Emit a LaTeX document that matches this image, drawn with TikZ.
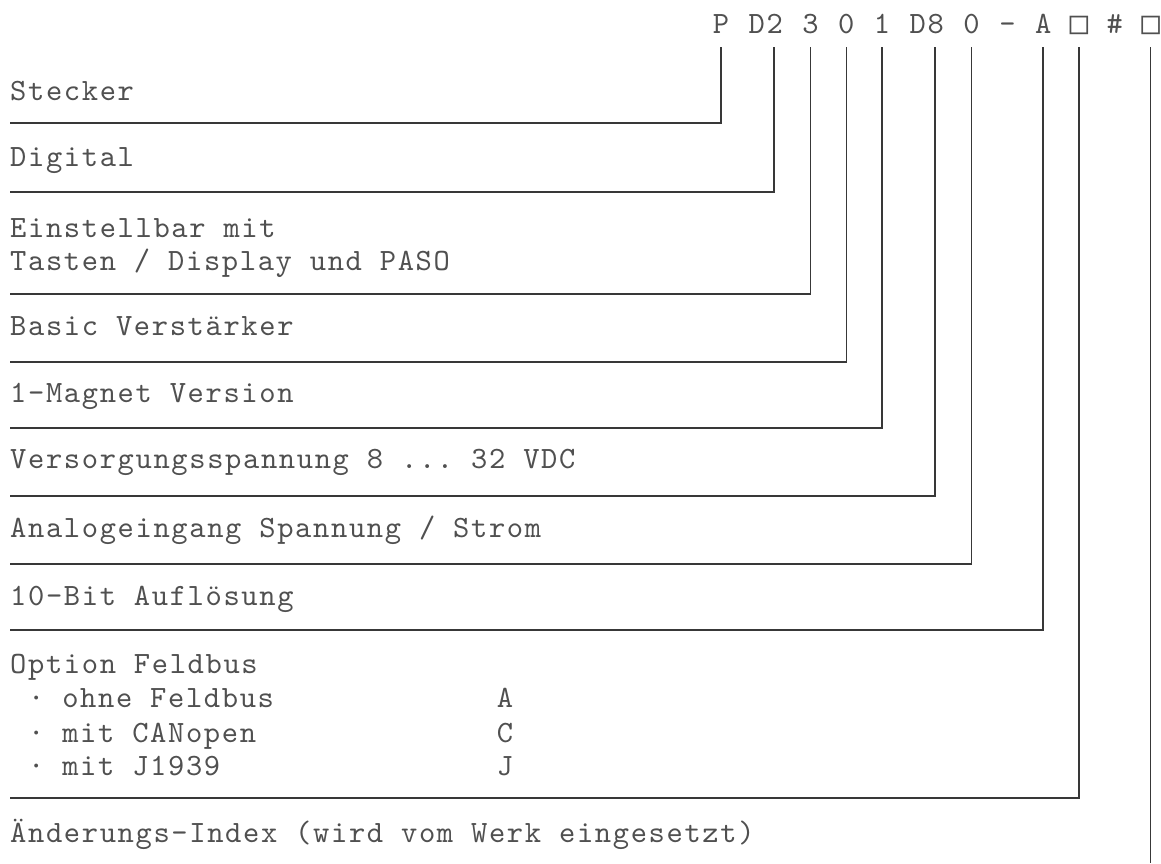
\documentclass[tikz,border=0pt]{standalone}
\usepackage{fontspec}
\setmonofont{lmmono10-regular.otf}[LetterSpace=5.3]
\newfontfamily\boxfont{DejaVu Sans Mono}
\definecolor{inkgrey}{HTML}{505050}
\definecolor{linegrey}{HTML}{383838}
\tikzstyle{code} = [inner sep=0pt, text=inkgrey, font=\fontsize{31}{36}\selectfont\ttfamily]
\tikzstyle{desc} = [code, anchor=base west]
\tikzstyle{digit} = [code, anchor=base, text depth=0pt, inner ysep=14pt]
\tikzstyle{leader} = [draw=linegrey, line width=1.6pt]
\newcommand{\emptybox}{{\boxfont\fontsize{31}{36}\selectfont □}}

\begin{document}
\begin{tikzpicture}[x=1pt, y=-1pt]
		\useasboundingbox (0,0) rectangle (1161,863);

		% type code
		\node (hP) [digit] at (721,33) {P};
		\node (hD2) [digit] at (765.8,33) {D2};
		\node (h3) [digit] at (810.5,33) {3};
		\node (h0a) [digit] at (846.3,33) {0};
		\node (h1) [digit] at (882.1,33) {1};
		\node (hD8) [digit] at (926.8,33) {D8};
		\node (h0b) [digit] at (971.6,33) {0};
		\node (hdash) [digit] at (1007.4,33) {-};
		\node (hA) [digit] at (1043.2,33) {A};
		\node (hbus) [digit] at (1079,33) {\emptybox};
		\node (hhash) [digit] at (1114.8,33) {\#};
		\node (hidx) [digit] at (1150.6,33) {\emptybox};

		% descriptions
		\node (stecker) [desc] at (10,100) {Stecker};
		\node (digital) [desc] at (10,166) {Digital};
		\node (einst) [desc] at (10,237) {Einstellbar mit};
		\node (tasten) [desc] at (10,270) {Tasten / Display und PASO};
		\node (basic) [desc] at (10,335) {Basic Verstärker};
		\node (magnet) [desc] at (10,402) {1-Magnet Version};
		\node (versorg) [desc] at (10,468) {Versorgungsspannung 8 ... 32 VDC};
		\node (analog) [desc] at (10,537) {Analogeingang Spannung / Strom};
		\node (bit) [desc] at (10,605) {10-Bit Auflösung};
		\node (feldbus) [desc] at (10,673) {Option Feldbus};
		\node (ohne) [desc] at (27.9,707) {· ohne Feldbus};
		\node (canopen) [desc] at (27.9,742) {· mit CANopen};
		\node (j1939) [desc] at (27.9,775) {· mit J1939};
		\node (optA) [code, anchor=base] at (505,707) {A};
		\node (optC) [code, anchor=base] at (505,742) {C};
		\node (optJ) [code, anchor=base] at (505,775) {J};
		\node (index) [desc] at (10,842) {Änderungs-Index (wird vom Werk eingesetzt)};

		% leader ends
		\coordinate (eP) at (10,123);
		\coordinate (eD2) at (10,192);
		\coordinate (e3) at (10,294);
		\coordinate (e0a) at (10,362);
		\coordinate (e1) at (10,428);
		\coordinate (eD8) at (10,496);
		\coordinate (e0b) at (10,564);
		\coordinate (eA) at (10,630);
		\coordinate (ebus) at (10,798);
		\coordinate (eidx) at (1150.6,863);

		\draw [leader] (hP.south) |- (eP);
		\draw [leader] ([xshift=-9pt]hD2.south east) |- (eD2);
		\draw [leader] (h3.south) |- (e3);
		\draw [leader] (h0a.south) |- (e0a);
		\draw [leader] (h1.south) |- (e1);
		\draw [leader] ([xshift=-9pt]hD8.south east) |- (eD8);
		\draw [leader] (h0b.south) |- (e0b);
		\draw [leader] (hA.south) |- (eA);
		\draw [leader] (hbus.south) |- (ebus);
		\draw [leader] (hidx.south) -- (eidx);

		\end{tikzpicture}
\end{document}
